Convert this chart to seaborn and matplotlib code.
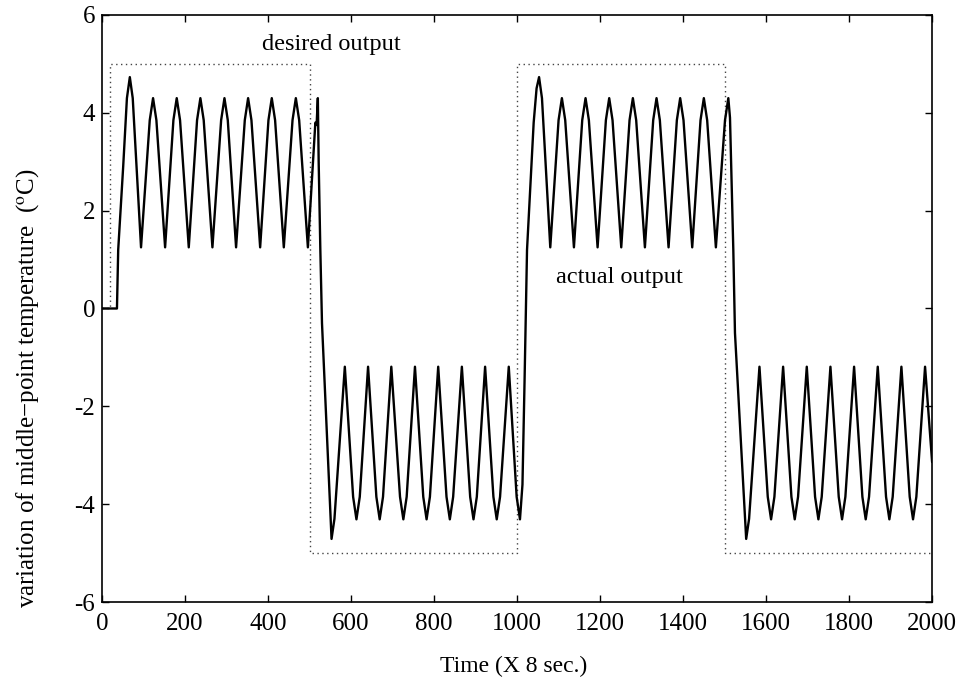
import pandas as pd
import seaborn as sns
import matplotlib.pyplot as plt

# desired output (square wave, dotted)
desired_t = [0, 20, 20, 500, 500, 1000, 1000, 1500, 1500, 2000]
desired_y = [0, 0, 5, 5, -5, -5, 5, 5, -5, -5]

# actual output
seg1_t = [0, 36, 39, 51, 60, 67, 74, 94,
          115, 123, 131, 152, 172, 180, 188, 209, 229, 237, 245, 266,
          287, 295, 303, 323, 344, 352, 360, 381, 401, 409, 417, 438,
          459, 467, 475, 496, 514, 517, 520, 522, 526, 530]
seg1_y = [0, 0, 1.2, 2.9, 4.3, 4.73, 4.3, 1.25,
          3.85, 4.3, 3.85, 1.25, 3.85, 4.3, 3.85, 1.25, 3.85, 4.3, 3.85, 1.25,
          3.85, 4.3, 3.85, 1.25, 3.85, 4.3, 3.85, 1.25, 3.85, 4.3, 3.85, 1.25,
          3.85, 4.3, 3.85, 1.25, 3.8, 3.75, 4.3, 3.0, 1.2, -0.3]

seg2_t = [553, 560, 585, 605, 613, 621, 641, 661, 669, 677, 697, 718, 726, 734,
          754, 774, 782, 790, 810, 830, 838, 846, 867, 887, 895, 903,
          923, 943, 951, 959, 980, 999, 1007, 1013, 1018, 1024]
seg2_y = [-4.71, -4.3, -1.19, -3.85, -4.31, -3.85, -1.19, -3.85, -4.31, -3.85,
          -1.19, -3.85, -4.31, -3.85, -1.19, -3.85, -4.31, -3.85, -1.19, -3.85,
          -4.31, -3.85, -1.19, -3.85, -4.31, -3.85, -1.19, -3.85, -4.31, -3.85,
          -1.19, -3.85, -4.31, -3.6, -1.5, 1.2]

seg3_t = [1040, 1047, 1053, 1060, 1080, 1100, 1108, 1116, 1137, 1157, 1165, 1173,
          1194, 1214, 1222, 1230, 1251, 1271, 1279, 1287, 1308, 1328, 1336, 1344,
          1365, 1385, 1393, 1401, 1422, 1442, 1450, 1458, 1479, 1501, 1509,
          1513, 1521, 1525]
seg3_y = [3.8, 4.5, 4.73, 4.3, 1.25, 3.85, 4.3, 3.85, 1.25, 3.85, 4.3, 3.85,
          1.25, 3.85, 4.3, 3.85, 1.25, 3.85, 4.3, 3.85, 1.25, 3.85, 4.3, 3.85,
          1.25, 3.85, 4.3, 3.85, 1.25, 3.85, 4.3, 3.85, 1.25, 3.85, 4.3,
          3.9, 1.2, -0.5]

seg4_t = [1552, 1559, 1584, 1604, 1612, 1620, 1641, 1661, 1669, 1677, 1698,
          1718, 1726, 1734, 1755, 1775, 1783, 1791, 1812, 1832, 1840, 1848,
          1869, 1889, 1897, 1905, 1926, 1946, 1954, 1962, 1983, 2000]
seg4_y = [-4.71, -4.3, -1.19, -3.85, -4.31, -3.85, -1.19, -3.85, -4.31, -3.85,
          -1.19, -3.85, -4.31, -3.85, -1.19, -3.85, -4.31, -3.85, -1.19, -3.85,
          -4.31, -3.85, -1.19, -3.85, -4.31, -3.85, -1.19, -3.85, -4.31, -3.85,
          -1.19, -3.14]


def main() -> None:
    sns.set_theme(style="ticks")
    plt.rcParams['font.family'] = ['Liberation Serif', 'DejaVu Serif']
    plt.rcParams['mathtext.fontset'] = 'stix'
    plt.rcParams['axes.unicode_minus'] = False
    plt.rcParams['text.color'] = 'black'
    plt.rcParams['axes.labelcolor'] = 'black'

    actual = pd.DataFrame({'t': seg1_t + seg2_t + seg3_t + seg4_t,
                           'y': seg1_y + seg2_y + seg3_y + seg4_y})
    desired = pd.DataFrame({'t': desired_t, 'y': desired_y})

    fig = plt.figure(figsize=(9.57, 6.87), dpi=100)
    ax = fig.add_axes([0.1066, 0.1237, 0.8674, 0.8545])

    sns.lineplot(data=desired, x='t', y='y', sort=False, estimator=None,
                 color='#444444', linestyle=(0, (1, 2.5)), linewidth=1.0, ax=ax)
    sns.lineplot(data=actual, x='t', y='y', sort=False, estimator=None,
                 color='black', linewidth=1.7, ax=ax)

    ax.set_xlim(0, 2000)
    ax.set_ylim(-6, 6)
    ax.set_xticks(range(0, 2001, 200))
    ax.set_yticks(range(-6, 7, 2))
    ax.tick_params(direction='in', top=True, right=True, length=5,
                   width=1, labelsize=18, colors='black')
    ax.tick_params(axis='x', pad=8)
    ax.tick_params(axis='y', pad=5)
    for s in ax.spines.values():
        s.set_linewidth(1.2)
        s.set_color('black')

    ax.set_xlabel('Time (X 8 sec.)', fontsize=17)
    ax.set_ylabel('variation of middle\u2212point temperature  ($^{\\rm o}$C)',
                  fontsize=18)
    ax.xaxis.set_label_coords(0.496, -0.092)
    ax.yaxis.set_label_coords(-0.073, 0.365)

    ax.text(386, 5.4, 'desired output', fontsize=17.5, va='center', ha='left')
    ax.text(1094, 0.63, 'actual output', fontsize=17.5, va='center', ha='left')

    fig.savefig('out.png', dpi=100)


if __name__ == "__main__":
    main()
